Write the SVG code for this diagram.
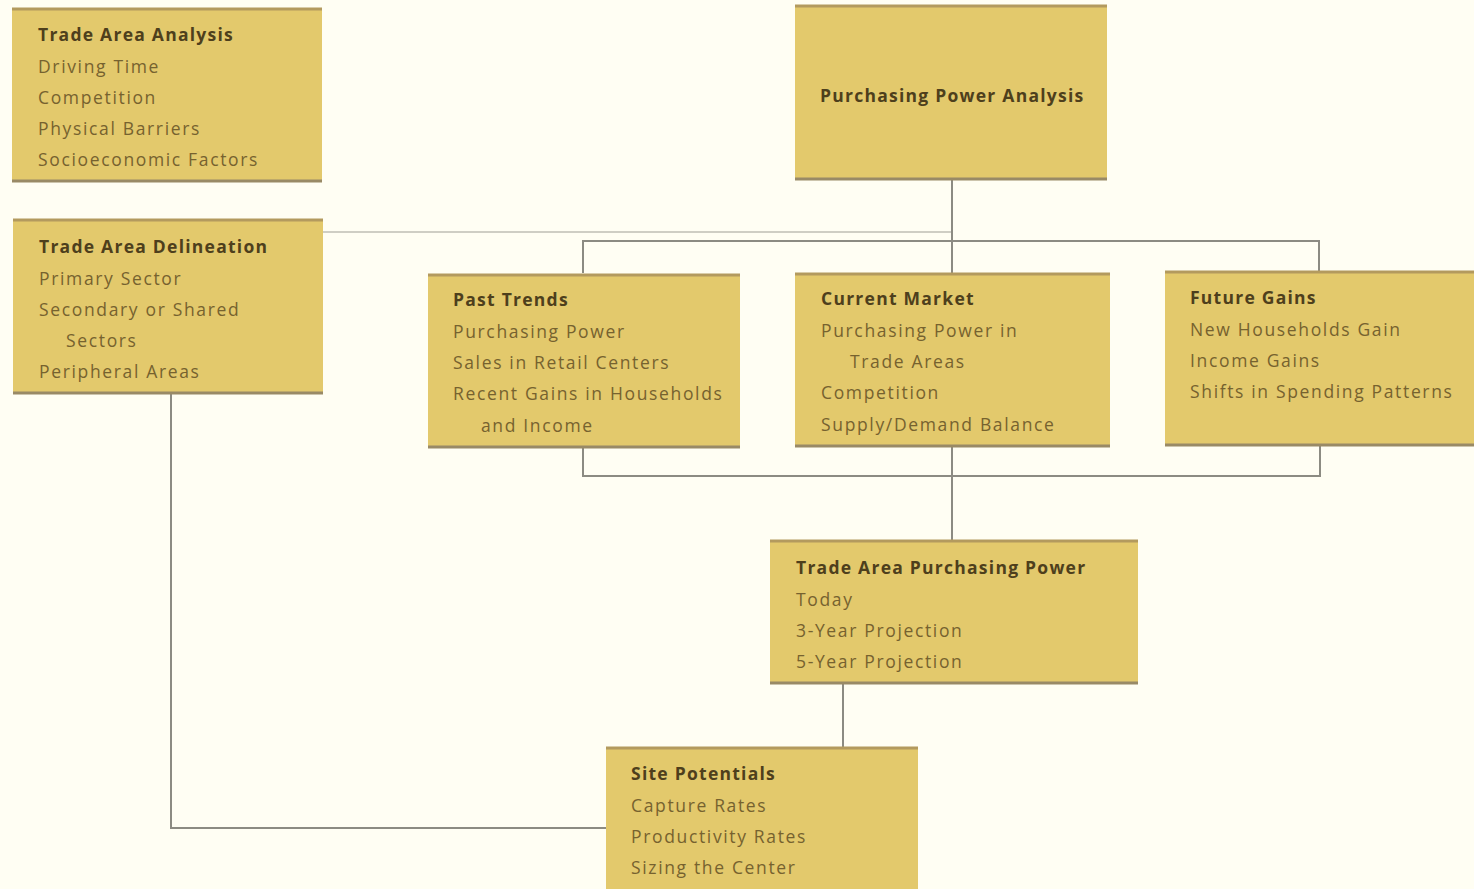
<svg xmlns="http://www.w3.org/2000/svg" width="1474" height="889" viewBox="0 0 1474 889">
<style>
.box{fill:#E3C96C}
.tb{stroke:#B39A5E;stroke-width:3}
.bb{stroke:#998A66;stroke-width:3}
.t{font-family:"Open Sans","Noto Sans",sans-serif;font-size:17.5px;fill:#76622F;letter-spacing:1.65px}
.h{font-weight:bold;fill:#4E3F1C;letter-spacing:1.25px}
.c{fill:none;stroke:#8C8B82;stroke-width:2}
.cl{fill:none;stroke:#CFCEC4;stroke-width:2}
</style>
<rect width="1474" height="889" fill="#FFFEF3"/>
<g id="connectors">
<path class="cl" d="M323 232 H952"/>
<path class="c" d="M952 180 V273"/>
<path class="c" d="M583 273 V241 H1319 V271"/>
<path class="c" d="M583 448 V476 H1320 V446"/>
<path class="c" d="M952 447 V540"/>
<path class="c" d="M843 684 V747"/>
<path class="c" d="M171 394 V828 H606"/>
</g>
<g id="trade-area-analysis">
<rect class="box" x="12" y="8" width="310" height="174"/>
<line class="tb" x1="12" y1="9" x2="322" y2="9"/>
<line class="bb" x1="12" y1="181" x2="322" y2="181"/>
<text class="t h" x="38" y="41">Trade Area Analysis</text>
<text class="t" x="38" y="73">Driving Time</text>
<text class="t" x="38" y="104">Competition</text>
<text class="t" x="38" y="135">Physical Barriers</text>
<text class="t" x="38" y="166">Socioeconomic Factors</text>
</g>
<g id="trade-area-delineation">
<rect class="box" x="13" y="219" width="310" height="175"/>
<line class="tb" x1="13" y1="220" x2="323" y2="220"/>
<line class="bb" x1="13" y1="393" x2="323" y2="393"/>
<text class="t h" x="39" y="253">Trade Area Delineation</text>
<text class="t" x="39" y="285">Primary Sector</text>
<text class="t" x="39" y="316">Secondary or Shared</text>
<text class="t" x="66" y="347">Sectors</text>
<text class="t" x="39" y="378">Peripheral Areas</text>
</g>
<g id="purchasing-power-analysis">
<rect class="box" x="795" y="5" width="312" height="175"/>
<line class="tb" x1="795" y1="6" x2="1107" y2="6"/>
<line class="bb" x1="795" y1="179" x2="1107" y2="179"/>
<text class="t h" x="820" y="102">Purchasing Power Analysis</text>
</g>
<g id="past-trends">
<rect class="box" x="428" y="274" width="312" height="174"/>
<line class="tb" x1="428" y1="275" x2="740" y2="275"/>
<line class="bb" x1="428" y1="447" x2="740" y2="447"/>
<text class="t h" x="453" y="306">Past Trends</text>
<text class="t" x="453" y="338">Purchasing Power</text>
<text class="t" x="453" y="369">Sales in Retail Centers</text>
<text class="t" x="453" y="400">Recent Gains in Households</text>
<text class="t" x="481" y="432">and Income</text>
</g>
<g id="current-market">
<rect class="box" x="795" y="273" width="315" height="174"/>
<line class="tb" x1="795" y1="274" x2="1110" y2="274"/>
<line class="bb" x1="795" y1="446" x2="1110" y2="446"/>
<text class="t h" x="821" y="305">Current Market</text>
<text class="t" x="821" y="337">Purchasing Power in</text>
<text class="t" x="850" y="368">Trade Areas</text>
<text class="t" x="821" y="399">Competition</text>
<text class="t" x="821" y="431">Supply/Demand Balance</text>
</g>
<g id="future-gains">
<rect class="box" x="1165" y="271" width="309" height="175"/>
<line class="tb" x1="1165" y1="272" x2="1474" y2="272"/>
<line class="bb" x1="1165" y1="445" x2="1474" y2="445"/>
<text class="t h" x="1190" y="304">Future Gains</text>
<text class="t" x="1190" y="336">New Households Gain</text>
<text class="t" x="1190" y="367">Income Gains</text>
<text class="t" x="1190" y="398">Shifts in Spending Patterns</text>
</g>
<g id="trade-area-purchasing-power">
<rect class="box" x="770" y="540" width="368" height="144"/>
<line class="tb" x1="770" y1="541" x2="1138" y2="541"/>
<line class="bb" x1="770" y1="683" x2="1138" y2="683"/>
<text class="t h" x="796" y="574">Trade Area Purchasing Power</text>
<text class="t" x="796" y="606">Today</text>
<text class="t" x="796" y="637">3-Year Projection</text>
<text class="t" x="796" y="668">5-Year Projection</text>
</g>
<g id="site-potentials">
<rect class="box" x="606" y="747" width="312" height="142"/>
<line class="tb" x1="606" y1="748" x2="918" y2="748"/>
<text class="t h" x="631" y="780">Site Potentials</text>
<text class="t" x="631" y="812">Capture Rates</text>
<text class="t" x="631" y="843">Productivity Rates</text>
<text class="t" x="631" y="874">Sizing the Center</text>
</g>
</svg>
